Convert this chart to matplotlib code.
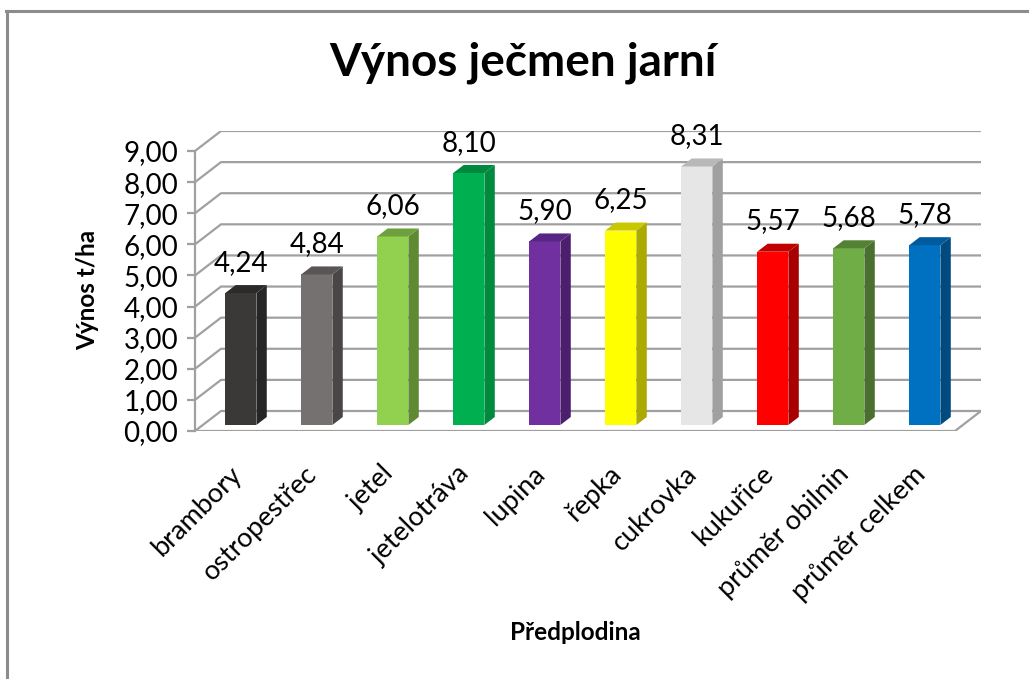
import matplotlib
matplotlib.use("Agg")
import matplotlib.pyplot as plt
from matplotlib.patches import Polygon

plt.rcParams['font.family'] = ['Lato', 'DejaVu Sans']

categories = ['brambory', 'ostropestřec', 'jetel', 'jetelotráva', 'lupina',
              'řepka', 'cukrovka', 'kukuřice', 'průměr obilnin', 'průměr celkem']
values = [4.24, 4.84, 6.06, 8.10, 5.90, 6.25, 8.31, 5.57, 5.68, 5.78]
front_colors = ['#3b3838', '#767171', '#92d050', '#00b050', '#7030a0',
                '#ffff00', '#e7e6e6', '#ff0000', '#70ad47', '#0070c0']
side_colors = ['#262626', '#4a4646', '#5f8a32', '#008a3e', '#4b1f6e',
               '#aaaa00', '#a0a0a0', '#a80000', '#4a7030', '#004a80']
top_colors = ['#2b2929', '#595555', '#6fa040', '#00883e', '#572685',
              '#c8c800', '#b8b8b8', '#c00000', '#548235', '#005a9e']
yticks = list(range(0, 10))

DX, DY = 0.342, 0.643     # depth of the 3d floor in data units
f0, f1 = 0.3, 0.7         # bar depth position
bw = 0.41
grid_col = '#a0a0a0'

fig = plt.figure(figsize=(10.29, 6.79), dpi=100)
ax = fig.add_axes([195/1029, (679-431)/679, (981-195)/1029, (431-131)/679])
ax.set_xlim(-0.5, 9.5 + DX)
ax.set_ylim(0, 9 + DY)

# back wall gridlines + side wall diagonals
for v in yticks:
    ax.plot([-0.5, -0.5 + DX, 9.5 + DX], [v, v + DY, v + DY],
            color=grid_col, lw=1.6, zorder=1, solid_capstyle='butt')
# floor
ax.plot([-0.5, 9.5, 9.5 + DX], [0, 0, DY], color=grid_col, lw=1.6, zorder=1)

for i, (v, fc, sc, tc) in enumerate(zip(values, front_colors, side_colors, top_colors)):
    xl = i - bw/2 + f0*DX
    xr = i + bw/2 + f0*DX
    y0 = f0*DY
    y1 = v + f0*DY
    ddx, ddy = (f1-f0)*DX, (f1-f0)*DY
    ax.add_patch(Polygon([(xl, y0), (xr, y0), (xr, y1), (xl, y1)], closed=True,
                         facecolor=fc, edgecolor='none', zorder=3))
    ax.add_patch(Polygon([(xr, y0), (xr+ddx, y0+ddy), (xr+ddx, y1+ddy), (xr, y1)],
                         closed=True, facecolor=sc, edgecolor='none', zorder=3))
    ax.add_patch(Polygon([(xl, y1), (xr, y1), (xr+ddx, y1+ddy), (xl+ddx, y1+ddy)],
                         closed=True, facecolor=tc, edgecolor='none', zorder=3))
    ax.text(i + f0*DX, y1 + ddy + 0.3, f'{v:.2f}'.replace('.', ','),
            ha='center', va='bottom', fontsize=20, zorder=4)

for s in ['top', 'right', 'bottom']:
    ax.spines[s].set_visible(False)
ax.spines['left'].set_bounds(0, 9)
ax.spines['left'].set_color(grid_col)
ax.spines['left'].set_linewidth(1.6)
ax.set_yticks(yticks)
ax.set_yticklabels([f'{t:.2f}'.replace('.', ',') for t in yticks], fontsize=20)
ax.tick_params(axis='y', length=6, width=1.6, color=grid_col, pad=6)
ax.set_xticks([i - 0.06 for i in range(len(categories))])
ax.set_xticklabels(categories, rotation=45, ha='right', rotation_mode='anchor', fontsize=19.5)
ax.tick_params(axis='x', length=0, pad=22)
ax.set_facecolor('none')

fig.text(523/1029, 1 - 63/679, 'Výnos ječmen jarní', ha='center', va='center',
         fontsize=33, fontweight='bold')
fig.text(88/1029, 1 - 290/679, 'Výnos t/ha', ha='center', va='center',
         rotation=90, fontsize=17.5, fontweight='bold')
fig.text(575/1029, 1 - 632/679, 'Předplodina', ha='center', va='center',
         fontsize=17.5, fontweight='bold')

# chart area border (only left and top visible)
fig.add_artist(plt.Line2D([7/1029, 7/1029], [0, 1 - 11/679], color='#8c8c8c', lw=2.2))
fig.add_artist(plt.Line2D([6/1029, 1], [1 - 11/679, 1 - 11/679], color='#8c8c8c', lw=2.2))

fig.savefig('out.png', dpi=100)
